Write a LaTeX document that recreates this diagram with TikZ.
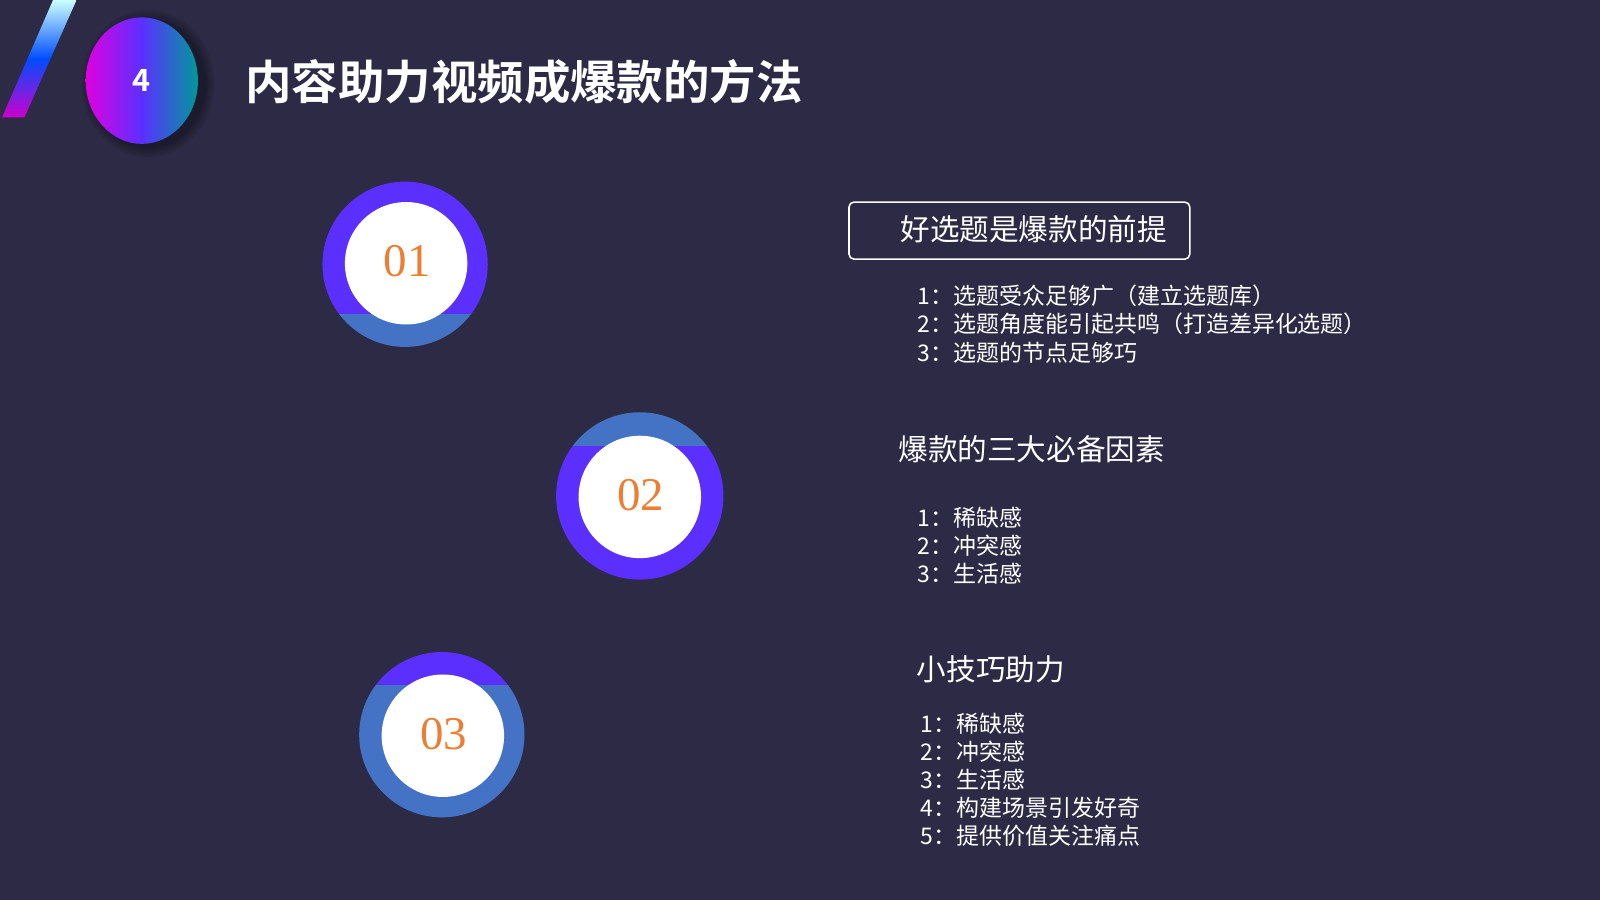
\documentclass[tikz,border=0pt]{standalone}
\usepackage{fontspec}
\setmainfont{Liberation Serif}
\newfontfamily\cjk{Noto Sans CJK SC}
\newfontfamily\cjkb{Noto Sans CJK SC Bold}
\definecolor{bg}{HTML}{2C2A45}
\definecolor{pur}{HTML}{5B30FF}
\definecolor{blu}{HTML}{4472C4}
\definecolor{org}{HTML}{ED7D31}
\tikzset{
  num/.style={font=\fontsize{46}{46}\selectfont, text=org},
  head/.style={font=\cjk\fontsize{29}{32}\selectfont, text=white, anchor=west},
  item/.style={font=\cjk\fontsize{22.5}{27.5}\selectfont, text=white, anchor=north west, align=left},
}
\begin{document}
\begin{tikzpicture}[x=1pt,y=-1pt]
\fill[bg] (0,0) rectangle (1568,882);
\useasboundingbox (0,0) rectangle (1568,882);
% slash
\shade[bottom color=magenta!60!violet, top color=cyan!20, middle color=blue!70!cyan] (2,115) -- (24,115) -- (75,0) -- (52,0) -- cycle;
% badge
\foreach \ra/\rb in {65/72,63/70,61/68,59/66,57/64}{\fill[black,opacity=0.07] (145,82) ellipse ({\ra} and {\rb});}
\shade[left color=magenta!75!violet, right color=teal!80!cyan, middle color=pur] (139,79) ellipse (55 and 62);
\node (b) at (139,79) {\cjkb\fontsize{30}{30}\selectfont\color{white}4};
\node[anchor=west] (t) at (237,80) {\cjkb\fontsize{45.5}{46}\selectfont\color{white}内容助力视频成爆款的方法};
% circle 01
\begin{scope}
\clip (397,259) circle (81);
\fill[pur] (300,150) rectangle (500,308);
\fill[blu] (300,308) rectangle (500,360);
\end{scope}
\fill[white] (398,258) circle (60);
\node[num] (n1) at (399,256) {01};
% circle 02
\begin{scope}
\clip (627,486) circle (82);
\fill[blu] (530,390) rectangle (720,437);
\fill[pur] (530,437) rectangle (720,580);
\end{scope}
\fill[white] (627,487) circle (60);
\node[num] (n2) at (628,485) {02};
% circle 03
\begin{scope}
\clip (433,720) circle (81);
\fill[pur] (340,630) rectangle (530,671);
\fill[blu] (340,671) rectangle (530,810);
\end{scope}
\fill[white] (434,721) circle (60);
\node[num] (n3) at (435,719) {03};
% texts
\draw[white, line width=1.5pt, rounded corners=5] (832,198) rectangle (1166,254);
\node[head] (h1) at (879,225) {好选题是爆款的前提};
\node[item] (i1) at (896,276) {1：选题受众足够广（建立选题库）\\2：选题角度能引起共鸣（打造差异化选题）\\3：选题的节点足够巧};
\node[head] (h2) at (877,440) {爆款的三大必备因素};
\node[item] (i2) at (896,493) {1：稀缺感\\2：冲突感\\3：生活感};
\node[head] (h3) at (895,656) {小技巧助力};
\node[item] (i3) at (899,695) {1：稀缺感\\2：冲突感\\3：生活感\\4：构建场景引发好奇\\5：提供价值关注痛点};
\end{tikzpicture}
\end{document}
